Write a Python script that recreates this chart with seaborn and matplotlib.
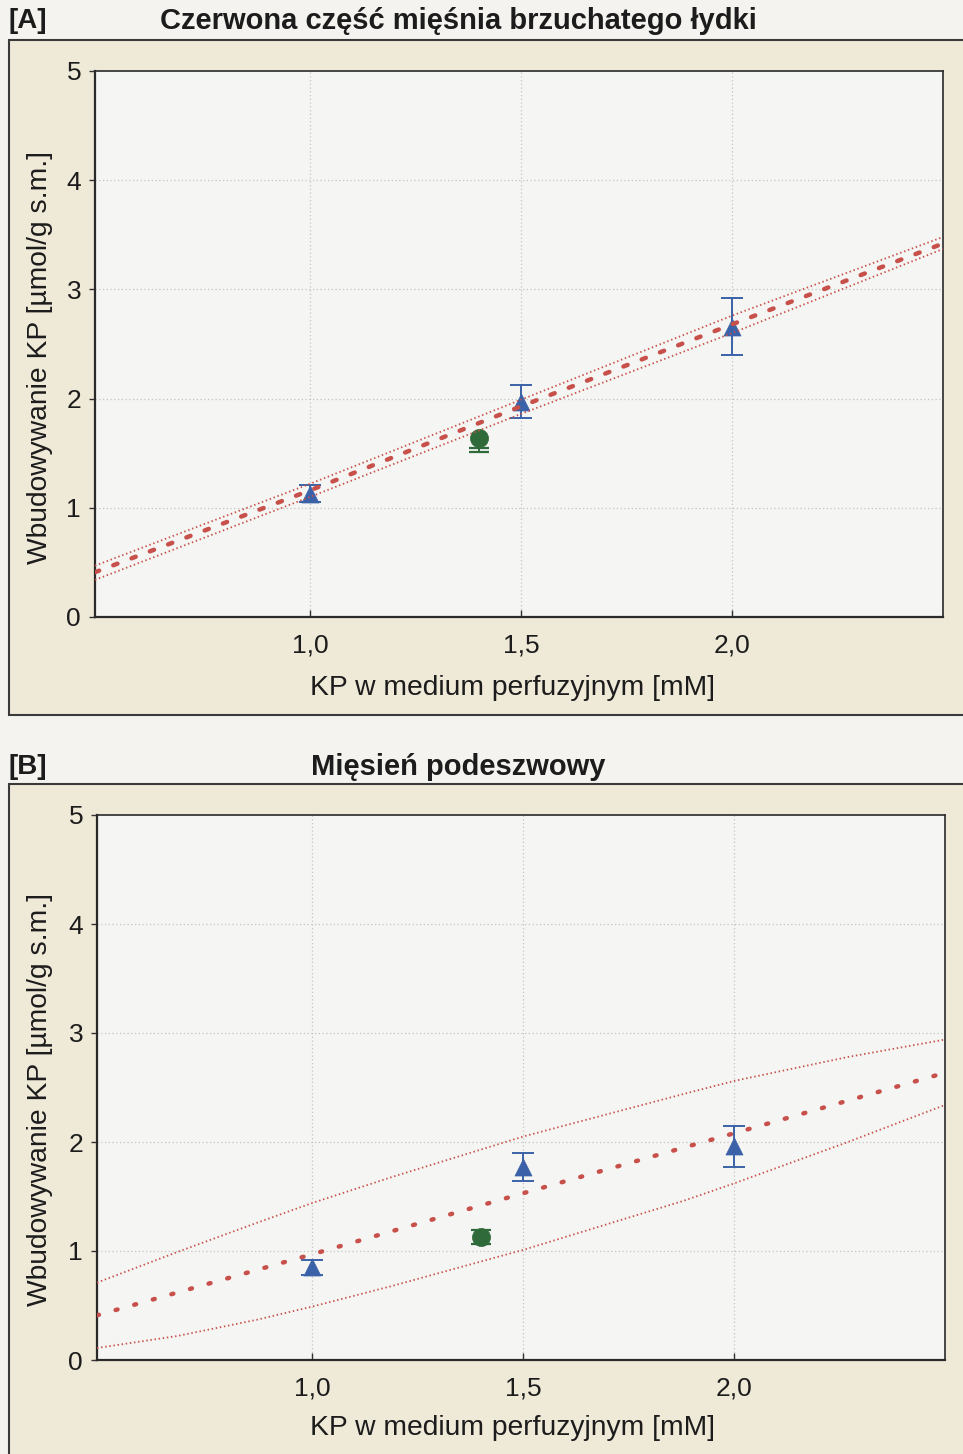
import matplotlib
matplotlib.use("Agg")
import matplotlib.pyplot as plt
import matplotlib.font_manager as fm
from matplotlib.patches import Rectangle
import seaborn as sns
import pandas as pd

# ---------------- data ----------------
x_ticks = [1.0, 1.5, 2.0]
x_tick_labels = ["1,0", "1,5", "2,0"]
y_ticks = [0, 1, 2, 3, 4, 5]
y_tick_labels = ["0", "1", "2", "3", "4", "5"]

titles = ["Czerwona część mięśnia brzuchatego łydki", "Mięsień podeszwowy"]
panel_tags = ["[A]", "[B]"]
x_label = "KP w medium perfuzyjnym [mM]"
y_label = "Wbudowywanie KP [µmol/g s.m.]"

# Panel A
a_tri_x = [1.0, 1.5, 2.0]
a_tri_y = [1.13, 1.97, 2.66]
a_tri_err = [0.08, 0.15, 0.26]
a_dot_x = [1.4]
a_dot_y = [1.64]
a_dot_err_lo = [1.51]
a_dot_err_hi = [1.545]
a_fit_x = [0.49, 1.0, 1.5, 2.0, 2.5]
a_fit_y = [0.41, 1.16, 1.93, 2.68, 3.42]
a_band_hi = [0.47, 1.22, 1.99, 2.76, 3.48]
a_band_lo = [0.34, 1.10, 1.86, 2.60, 3.37]

# Panel B
b_tri_x = [1.0, 1.5, 2.0]
b_tri_y = [0.85, 1.77, 1.96]
b_tri_err = [0.07, 0.13, 0.19]
b_dot_x = [1.4]
b_dot_y = [1.13]
b_dot_err_lo = [1.065]
b_dot_err_hi = [1.195]
b_fit_x = [0.49, 1.0, 1.5, 2.0, 2.5]
b_fit_y = [0.41, 0.97, 1.53, 2.08, 2.635]
b_band_x = [0.49, 0.68, 0.87, 1.0, 1.19, 1.5, 1.88, 2.0, 2.27, 2.5]
b_band_hi = [0.71, 0.99, 1.26, 1.44, 1.68, 2.05, 2.44, 2.56, 2.78, 2.94]
b_band_lo = [0.11, 0.22, 0.37, 0.49, 0.68, 1.01, 1.46, 1.62, 2.00, 2.34]

# ---------------- style ----------------
sns.set_theme(style="white")
names = {f.name for f in fm.fontManager.ttflist}
base_font = "Liberation Sans" if "Liberation Sans" in names else "DejaVu Sans"
plt.rcParams["font.family"] = [base_font, "DejaVu Sans"]

TXT = "#1c1c1c"
RED = "#c8504a"
BLUE = "#3b62a8"
GREEN = "#2f6a3a"
BEIGE = "#efe9d8"
BG = "#f4f3ef"
AXBG = "#f5f5f3"

W, H = 963, 1454
fig = plt.figure(figsize=(W / 100, H / 100), dpi=100, facecolor=BG)

# panel frames (figure pixel geometry)
fig.add_artist(Rectangle((9 / W, 1 - 715 / H), 1.0, (715 - 40) / H,
                         transform=fig.transFigure, facecolor=BEIGE,
                         edgecolor="#3a3a3a", lw=1.5, zorder=-5))
fig.add_artist(Rectangle((9 / W, -0.02), 1.0, (1454 - 784) / H + 0.02,
                         transform=fig.transFigure, facecolor=BEIGE,
                         edgecolor="#3a3a3a", lw=1.5, zorder=-5))

axA = fig.add_axes([95 / W, 1 - 617 / H, (943 - 95) / W, (617 - 71) / H])
axB = fig.add_axes([97 / W, 1 - 1360 / H, (945 - 97) / W, (1360 - 815) / H])

title_y = [1 - 21 / H, 1 - 767 / H]
label_cx = [1 - 357 / H, 1 - 1100 / H]
xlab_y = [1 - 688 / H, 1 - 1428 / H]

panels = [
    (axA, a_tri_x, a_tri_y, a_tri_err, a_dot_x, a_dot_y, a_dot_err_lo, a_dot_err_hi,
     a_fit_x, a_fit_y, a_fit_x, a_band_hi, a_band_lo, (0, (1.0, 3.4))),
    (axB, b_tri_x, b_tri_y, b_tri_err, b_dot_x, b_dot_y, b_dot_err_lo, b_dot_err_hi,
     b_fit_x, b_fit_y, b_band_x, b_band_hi, b_band_lo, (0, (0.45, 3.9))),
]

for i, (ax, tx, ty, te, dx, dy, dlo, dhi, fx_, fy_, bx, bhi, blo, dash) in enumerate(panels):
    ax.set_facecolor(AXBG)
    ax.set_xlim(0.49, 2.5)
    ax.set_ylim(0, 5)

    # grid
    for yv in y_ticks[1:-1]:
        ax.axhline(yv, color="#c4c4c4", lw=0.9, ls=(0, (1, 2)), zorder=0.5)
    for xv in x_ticks:
        ax.axvline(xv, color="#c4c4c4", lw=0.9, ls=(0, (1, 2)), zorder=0.5)

    # error bars + markers
    ax.errorbar(tx, ty, yerr=te, fmt="none", ecolor=BLUE, elinewidth=1.4,
                capsize=8, capthick=1.4, zorder=3)
    lo_hi_c = [(l + h) / 2 for l, h in zip(dlo, dhi)]
    lo_hi_e = [(h - l) / 2 for l, h in zip(dlo, dhi)]
    ax.errorbar(dx, lo_hi_c, yerr=lo_hi_e, fmt="none", ecolor=GREEN, elinewidth=1.4,
                capsize=7, capthick=1.6, zorder=3)
    sns.scatterplot(x=tx, y=ty, marker="^", s=150, color=BLUE, edgecolor=BLUE,
                    linewidth=0.5, ax=ax, zorder=4, legend=False)
    sns.scatterplot(x=dx, y=dy, marker="o", s=170, color=GREEN, edgecolor=GREEN,
                    linewidth=0.5, ax=ax, zorder=4, legend=False)

    # regression line and bands
    fit_df = pd.DataFrame({"x": fx_, "y": fy_})
    band_df = pd.DataFrame({"x": bx, "hi": bhi, "lo": blo})
    sns.lineplot(data=band_df, x="x", y="hi", ax=ax, color=RED, lw=1.3,
                 linestyle=(0, (0.8, 1.5)), estimator=None, sort=False, zorder=5)
    sns.lineplot(data=band_df, x="x", y="lo", ax=ax, color=RED, lw=1.3,
                 linestyle=(0, (0.8, 1.5)), estimator=None, sort=False, zorder=5)
    fit_line = sns.lineplot(data=fit_df, x="x", y="y", ax=ax, color=RED, lw=3.2,
                            estimator=None, sort=False, zorder=6).lines[-1]
    fit_line.set_linestyle(dash)
    fit_line.set_dash_capstyle("round")

    # ticks
    ax.set_xticks(x_ticks)
    ax.set_xticklabels(x_tick_labels, fontsize=19, color=TXT)
    ax.set_yticks(y_ticks)
    ax.set_yticklabels(y_tick_labels, fontsize=19, color=TXT)
    ax.tick_params(axis="x", direction="in", length=5, width=1, color="#333333", pad=12)
    ax.tick_params(axis="y", direction="out", length=4, width=1, color="#333333", pad=6,
                   left=True)
    ax.tick_params(axis="x", bottom=True)
    ax.set_xlabel("")
    ax.set_ylabel("")
    for side, sp in ax.spines.items():
        sp.set_visible(True)
        sp.set_color("#2a2a2a")
        sp.set_linewidth(1.6 if side in ("left", "bottom") else 1.2)

    # texts
    fig.text(8 / W, title_y[i], panel_tags[i], fontsize=20, fontweight="bold",
             color=TXT, ha="left", va="center")
    fig.text(458 / W, title_y[i], titles[i], fontsize=21, fontweight="bold",
             color=TXT, ha="center", va="center")
    fig.text(40 / W, label_cx[i], y_label, fontsize=20.3, rotation=90,
             color=TXT, ha="center", va="center")
    fig.text(512 / W, xlab_y[i], x_label, fontsize=20.3, color=TXT,
             ha="center", va="center")

fig.savefig("out.png", dpi=100, facecolor=BG)
